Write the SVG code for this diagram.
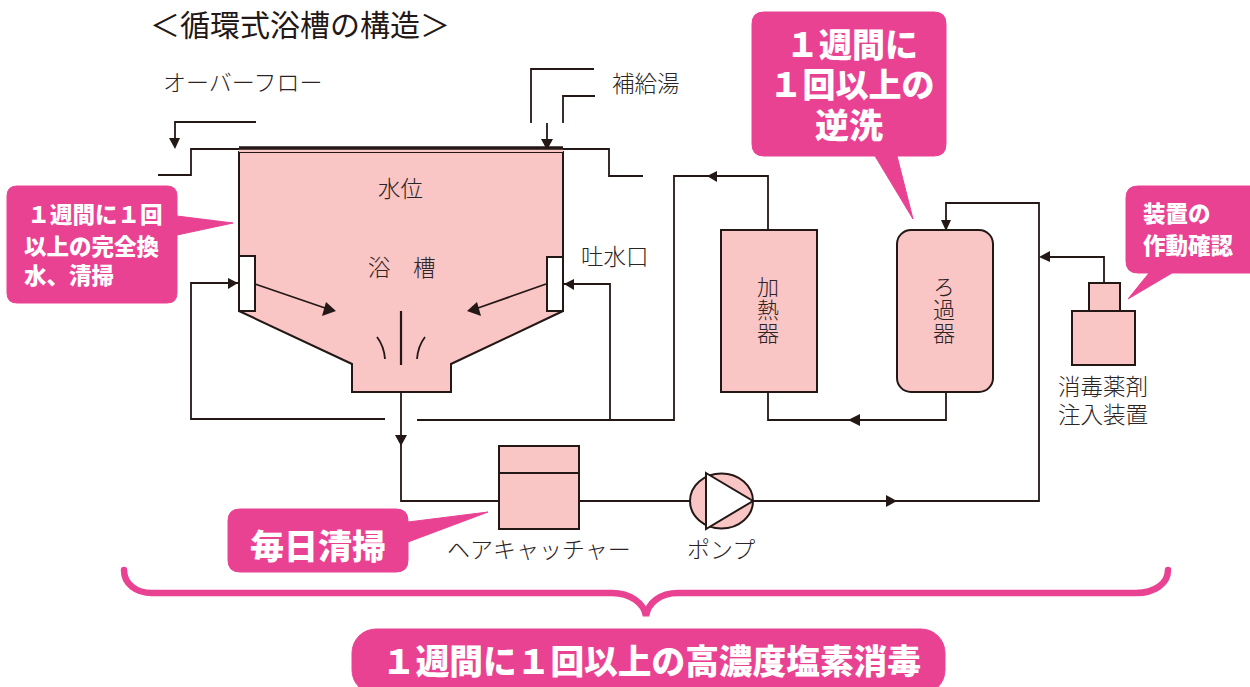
<svg xmlns="http://www.w3.org/2000/svg" width="1250" height="687" viewBox="0 0 1250 687">
<style>
text{font-family:"Noto Sans CJK JP","Noto Sans",sans-serif;}
.l{font-size:22.5px;fill:#2b2324;font-weight:300;}
.kana{font-size:23px;}
.v{font-size:22px;fill:#2b2324;font-weight:300;writing-mode:vertical-rl;letter-spacing:1px;}
.c{font-weight:900;fill:#fff;text-anchor:middle;}
.c2{font-weight:900;fill:#fff;}
.s{fill:#f9c5c5;stroke:#231815;stroke-width:2;}
.w{fill:#fff;stroke:#231815;stroke-width:2;}
.p{fill:none;stroke:#231815;stroke-width:1.8;}
.a{fill:#231815;}
.k{fill:#ea4293;stroke:#ea4293;stroke-width:1;stroke-linejoin:round;}
</style>
<rect width="1250" height="687" fill="#fff"/>
<text x="150" y="36" font-size="30" fill="#231815">＜循環式浴槽の構造＞</text>
<g id="connectors">
<path class="p" d="M158 175H191V149H239M563 149H609V176H643"/>
<path class="p" d="M256 122H175V140"/><path class="a" d="M169 138H180L175 149Z"/>
<path class="p" d="M531 123V69H594M563 123V96H595M547 123V142"/><path class="a" d="M541 139H553L547 150Z"/>
<path class="p" d="M238 283H191V419H385M417 420H674V176H768V230"/>
<path class="a" d="M238 283L228 278V289Z"/>
<path class="p" d="M564 284H610V419"/><path class="a" d="M564 284L574 279V290Z"/>
<path class="a" d="M707 176L717 171V182Z"/>
<path class="p" d="M768 392V420H946V392"/><path class="a" d="M848 420L860 414V426Z"/>
<path class="p" d="M401 392V501H499M579 501H690M753 501H1039V203H946V222"/>
<path class="a" d="M395 435H407L401 446Z"/><path class="a" d="M897 501L886 495V507Z"/>
<path class="a" d="M941 220H951L946 231Z"/>
<path class="p" d="M1104 283V257H1050"/><path class="a" d="M1039 257L1050 251V262Z"/>
</g>
<g id="tank">
<path class="s" d="M239 152V311L352 364V392H451V364L563 311V152Z"/>
<rect x="239" y="149" width="324" height="3" fill="#f9c5c5"/>
<path d="M239 148H563" stroke="#231815" stroke-width="3.500" fill="none"/>
<rect class="w" x="239" y="256" width="16" height="55"/>
<rect class="w" x="547" y="257" width="16" height="54"/>
<path class="p" d="M255 284L325 308M546 284L478 308"/>
<path class="a" d="M336 311L322 316L326 302ZM467 311L481 316L477 302Z"/>
<path d="M401 311V365" stroke="#231815" stroke-width="2.200" fill="none"/>
<path class="p" d="M377 337Q384 346 385 359M425 337Q418 346 417 359"/>
<text class="l" x="378" y="197">水位</text>
<text class="l" x="368" y="276">浴</text><text class="l" x="413" y="276">槽</text>
</g>
<g id="heater"><rect class="s" x="721" y="230" width="96" height="162"/>
<text class="v" x="768" y="276">加熱器</text></g>
<g id="filter"><rect class="s" x="897" y="230" width="96" height="162" rx="14"/>
<text class="v" x="944" y="276">ろ過器</text></g>
<g id="dosing"><rect class="s" x="1089" y="283" width="31" height="28"/><rect class="s" x="1072" y="311" width="63" height="54"/>
<text class="l" x="1058" y="395">消毒薬剤</text><text class="l" x="1058" y="423">注入装置</text></g>
<g id="catcher"><rect class="s" x="499" y="446" width="80" height="83"/><path class="p" d="M499 473H579"/>
<text class="l kana" x="447" y="558">ヘアキャッチャー</text></g>
<g id="pump"><ellipse class="s" cx="721.500" cy="501" rx="31.500" ry="27.500"/><path class="w" d="M706 473L753 501L706 529Z"/>
<text class="l kana" x="687" y="558">ポンプ</text></g>
<g id="labels">
<text class="l kana" x="163" y="91">オーバーフロー</text>
<text class="l" x="612" y="92">補給湯</text>
<text class="l" x="581" y="265">吐水口</text>
</g>
<g id="callout-drain">
<path class="k" d="M17 186H167Q177 186 177 196V216L233 223L177 235V293Q177 303 167 303H17Q7 303 7 293V196Q7 186 17 186Z"/>
<text class="c" font-size="22.500" x="95" y="223">１週間に１回</text><text class="c2" font-size="22.500" x="24" y="255">以上の完全換</text><text class="c2" font-size="22.500" x="24" y="284">水、清掃</text>
</g>
<g id="callout-filter">
<path class="k" d="M764 12H934Q946 12 946 24V144Q946 156 934 156H897L913 219L875 156H764Q752 156 752 144V24Q752 12 764 12Z"/>
<text class="c" font-size="33" x="852" y="57">１週間に</text><text class="c" font-size="33" x="852" y="97">１回以上の</text><text class="c" font-size="34" x="849" y="138">逆洗</text>
</g>
<g id="callout-check">
<path class="k" d="M1138 186H1250V273H1172L1128 299L1149 273H1138Q1126 273 1126 261V198Q1126 186 1138 186Z"/>
<text class="c2" font-size="22.500" x="1143" y="222">装置の</text><text class="c2" font-size="22.500" x="1143" y="254">作動確認</text>
</g>
<g id="callout-daily">
<path class="k" d="M240 509H396Q408 509 408 521V522L488 512L408 542V560Q408 572 396 572H240Q228 572 228 560V521Q228 509 240 509Z"/>
<text class="c" font-size="34" x="318" y="559">毎日清掃</text>
</g>
<g id="brace"><path d="M124 570C124 584 136 593 152 593H612C630 593 644 603 646 616C648 603 660 593 678 593H1136C1154 593 1168 584 1168 570" fill="none" stroke="#ea4293" stroke-width="6.500" stroke-linecap="round"/></g>
<g id="callout-bottom">
<rect class="k" x="352" y="629" width="593" height="65" rx="24"/>
<text class="c" font-size="33.700" x="651.500" y="674">１週間に１回以上の高濃度塩素消毒</text>
</g>
</svg>
